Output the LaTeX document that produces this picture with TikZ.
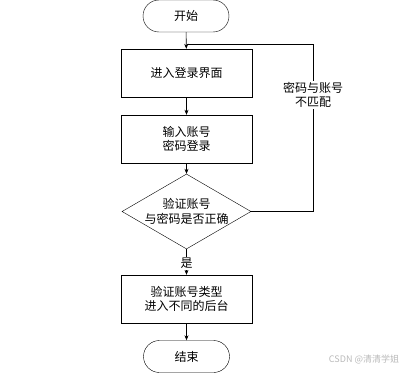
\documentclass[tikz,border=0pt]{standalone}
\usepackage{fontspec}
\setmainfont{Noto Sans CJK SC}
\usetikzlibrary{shapes.geometric,shapes.misc,arrows.meta}
\begin{document}
\begin{tikzpicture}[x=1pt,y=-1pt,
  every node/.style={font=\fontsize{12}{14.5}\selectfont, align=center, inner sep=0pt},
  term/.style={draw, rounded rectangle, minimum width=86pt, minimum height=32pt},
  procbox/.style={draw, rectangle, minimum width=131pt, minimum height=48pt},
  decide/.style={draw, diamond, aspect=1.72, minimum width=129pt, minimum height=75pt},
  conn/.style={draw, line width=0.6pt, -{Stealth[length=5pt,width=4pt]}},
  lbl/.style={fill=white, inner sep=1pt}]
\useasboundingbox (0,0) rectangle (405,375);
\node[term] (start) at (186,16) {开始};
\node[procbox] (b1) at (186.5,73) {进入登录界面};
\node[procbox] (b2) at (186.5,139) {输入账号\\密码登录};
\node[decide] (d) at (186.5,211.5) {验证账号\\与密码是否正确};
\node[procbox] (b3) at (186.5,299) {验证账号类型\\进入不同的后台};
\node[term] (end) at (186.5,356.5) {结束};
\coordinate (c1) at (313,211.5);
\coordinate (c2) at (313,44);
\coordinate (c3) at (186.5,44);
\draw[conn] (start) -- (b1);
\draw[conn] (b1) -- (b2);
\draw[conn] (b2) -- (d);
\draw[conn] (d) -- node[lbl, pos=0.55] (yes) {是} (b3);
\draw[conn] (b3) -- (end);
\draw[line width=0.6pt] (d.east) -- (c1) -- (c2) -- (c3);
\node[lbl] (no) at (313,95) {密码与账号\\不匹配};
\node[text=gray!55, font=\fontsize{9}{11}\selectfont] (wm) at (364,359) {CSDN @清清学姐};
\end{tikzpicture}
\end{document}
